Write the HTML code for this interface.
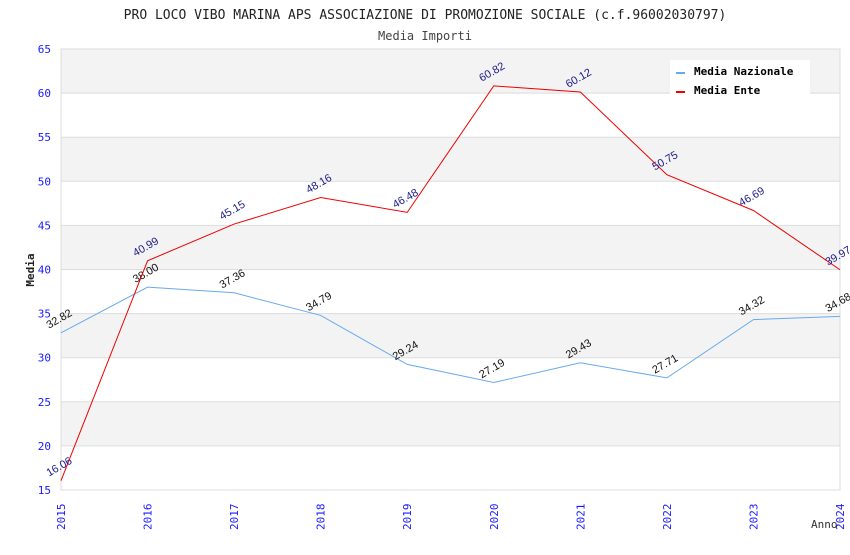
<!DOCTYPE html>
<html><head><meta charset="utf-8"><style>
body{margin:0;background:#fff}
svg text{font-family:"DejaVu Sans Mono","Liberation Mono",monospace}
svg text.val{font-family:"Liberation Sans","DejaVu Sans",sans-serif}
</style></head><body>
<svg id="chart" width="850" height="550" xmlns="http://www.w3.org/2000/svg">
<text x="425" y="19" text-anchor="middle" font-size="13" fill="#222">PRO LOCO VIBO MARINA APS ASSOCIAZIONE DI PROMOZIONE SOCIALE (c.f.96002030797)</text>
<text x="425" y="40" text-anchor="middle" font-size="12" fill="#444">Media Importi</text>
<g id="grid"></g>
<g id="yticks"></g>
<g id="xticks"></g>
<g id="series"></g>
<text x="34" y="270" transform="rotate(-90 34 270)" text-anchor="middle" font-size="11" font-weight="bold" fill="#222">Media</text>
<text x="811" y="528" font-size="11" fill="#333">Anno</text>
<g>
<rect x="670" y="60" width="140" height="36" fill="#fff"/>
<g><rect x="676" y="72" width="9" height="2" fill="#66aaee"/><text x="694" y="75" font-size="11" font-weight="bold" fill="#000">Media Nazionale</text></g>
<g><rect x="676" y="91" width="9" height="2" fill="#ee0000"/><text x="694" y="94" font-size="11" font-weight="bold" fill="#000">Media Ente</text></g>
</g>
</svg>
<script>
const years=["2015","2016","2017","2018","2019","2020","2021","2022","2023","2024"];
const nazionale=[32.82,38.00,37.36,34.79,29.24,27.19,29.43,27.71,34.32,34.68];
const ente=[16.06,40.99,45.15,48.16,46.48,60.82,60.12,50.75,46.69,39.97];
const yTicks=[15,20,25,30,35,40,45,50,55,60,65];
const NS="http://www.w3.org/2000/svg";
const L=61,R=840,T=49,B=490,yMin=15,yMax=65;
const xs=i=>L+i*(R-L)/(years.length-1);
const ys=v=>B-(v-yMin)/(yMax-yMin)*(B-T);
function mk(tag,attrs,parent){const e=document.createElementNS(NS,tag);for(const k in attrs)e.setAttribute(k,attrs[k]);parent.appendChild(e);return e;}
const grid=document.getElementById('grid'),yt=document.getElementById('yticks'),xt=document.getElementById('xticks'),sg=document.getElementById('series');
for(let i=0;i<yTicks.length-1;i++){
 const a=yTicks[i],b=yTicks[i+1];
 const r=mk('rect',{x:L,y:ys(b),width:R-L,height:ys(a)-ys(b),fill:(i%2===1)?'#f3f3f3':'#ffffff'},grid);
 
 
}
yTicks.forEach(v=>{
 const l=mk('line',{x1:L,x2:R,y1:ys(v),y2:ys(v),stroke:'#dddddd','stroke-width':1},grid);
 
 
 const t=mk('text',{x:L-10,y:ys(v)+4,'text-anchor':'end','font-size':11,fill:'#1a1aff'},yt);
 t.textContent=v;
 
 
});
const ax=mk('rect',{x:L,y:T,width:R-L,height:B-T,fill:'none',stroke:'#dddddd'},grid);


years.forEach((y,i)=>{
 const x=xs(i)+4,yy=530;
 const t=mk('text',{x:x,y:yy,transform:`rotate(-90 ${x} ${yy})`,'font-size':11,fill:'#1a1aff'},xt);
 t.textContent=y;
 
 
});
function series(data,color,labelColor,name){
 const p=mk('polyline',{points:data.map((v,i)=>xs(i)+','+ys(v)).join(' '),fill:'none',stroke:color,'stroke-width':1},sg);
 
 
 data.forEach((v,i)=>{
  const x=xs(i)-12,y=ys(v)-4;
  const t=mk('text',{x:x,y:y,transform:`rotate(-30 ${x} ${y})`,'font-size':11,fill:labelColor,'class':'val'},sg);
  t.textContent=v.toFixed(2);
  
  
 });
}
series(nazionale,'#66aaee','#111','nazionale');
series(ente,'#ee0000','#1a1a8a','ente');
</script>
</body></html>
